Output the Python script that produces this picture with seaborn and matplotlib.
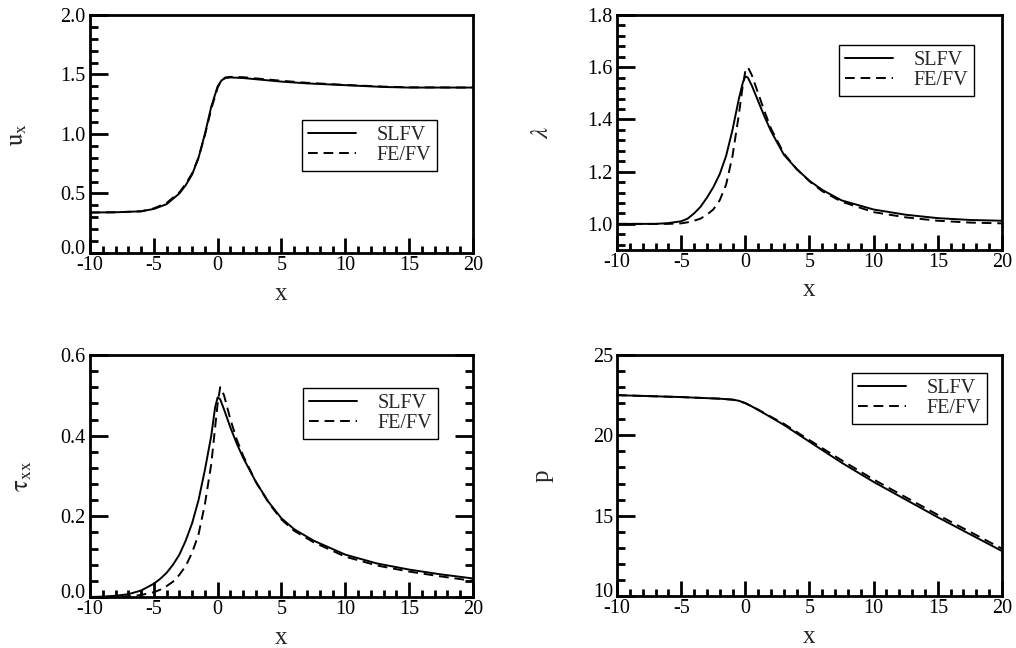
import numpy as np
import pandas as pd
import matplotlib
matplotlib.use("Agg")
import matplotlib.pyplot as plt
import matplotlib.transforms as mtransforms
import seaborn as sns
from matplotlib.ticker import MultipleLocator

# ---------------- data ----------------
labels = ["SLFV", "FE/FV"]

x_u = [-10, -8, -6, -5, -4, -3, -2.5, -2, -1.5, -1, -0.5, 0, 0.3, 0.6, 1, 2, 3, 5, 7, 10, 13, 15, 20]
u_slfv = [0.34, 0.342, 0.35, 0.37, 0.41, 0.50, 0.57, 0.66, 0.80, 1.0, 1.23, 1.40, 1.45, 1.47, 1.475,
          1.47, 1.46, 1.44, 1.425, 1.41, 1.395, 1.39, 1.39]
u_fefv = [0.34, 0.342, 0.35, 0.375, 0.42, 0.51, 0.58, 0.67, 0.80, 0.99, 1.21, 1.39, 1.45, 1.475, 1.48,
          1.477, 1.467, 1.447, 1.43, 1.412, 1.398, 1.392, 1.39]

x_lam = [-10, -7, -6, -5, -4.5, -4, -3.5, -3, -2.5, -2, -1.5, -1, -0.5, -0.2, 0, 0.2, 0.5, 1, 1.5, 2,
         3, 4, 5, 6, 7.5, 10, 12.5, 15, 17.5, 20]
lam_slfv = [1.0, 1.0, 1.003, 1.01, 1.02, 1.04, 1.065, 1.10, 1.14, 1.19, 1.26, 1.36, 1.48, 1.54, 1.565,
            1.56, 1.53, 1.47, 1.41, 1.355, 1.265, 1.21, 1.165, 1.13, 1.09, 1.055, 1.035, 1.022, 1.015, 1.012]
lam_fefv = [1.0, 1.0, 1.0, 1.002, 1.006, 1.012, 1.02, 1.035, 1.055, 1.09, 1.15, 1.26, 1.42, 1.53, 1.585,
            1.60, 1.57, 1.50, 1.43, 1.365, 1.27, 1.21, 1.163, 1.125, 1.085, 1.045, 1.025, 1.012, 1.005, 1.002]

x_tau = [-10, -9, -8, -7, -6, -5, -4.5, -4, -3.5, -3, -2.5, -2, -1.5, -1, -0.5, -0.2, 0, 0.2, 0.5, 1,
         1.5, 2, 3, 4, 5, 6, 7.5, 10, 12.5, 15, 17.5, 20]
tau_slfv = [0.0, 0.001, 0.003, 0.007, 0.016, 0.033, 0.045, 0.06, 0.08, 0.105, 0.14, 0.183, 0.24, 0.315,
            0.40, 0.47, 0.495, 0.49, 0.465, 0.42, 0.38, 0.345, 0.285, 0.235, 0.195, 0.168, 0.14, 0.105,
            0.083, 0.068, 0.056, 0.046]
tau_fefv = [0.0, 0.0, 0.001, 0.002, 0.005, 0.012, 0.018, 0.027, 0.038, 0.055, 0.077, 0.11, 0.155, 0.23,
            0.33, 0.42, 0.48, 0.52, 0.50, 0.44, 0.39, 0.35, 0.285, 0.233, 0.192, 0.164, 0.136, 0.10,
            0.078, 0.063, 0.051, 0.04]

x_p = [-10, -5, -2, -1, -0.5, 0, 0.5, 1, 2, 3, 5, 7.5, 10, 12.5, 15, 17.5, 20]
p_slfv = [22.5, 22.38, 22.28, 22.22, 22.15, 22.0, 21.8, 21.58, 21.12, 20.65, 19.6, 18.3, 17.1, 16.0,
          14.9, 13.85, 12.8]
p_fefv = [22.5, 22.38, 22.28, 22.22, 22.15, 22.0, 21.8, 21.6, 21.15, 20.72, 19.7, 18.45, 17.25, 16.15,
          15.05, 14.0, 12.95]

# ---------------- style ----------------
sns.set_theme(style="ticks")
plt.rcParams["font.family"] = ["Liberation Serif", "DejaVu Serif"]
plt.rcParams["mathtext.fontset"] = "stix"
plt.rcParams["axes.linewidth"] = 2.0
plt.rcParams["axes.unicode_minus"] = False

fig = plt.figure(figsize=(10.16, 6.48), dpi=100)

panels = [
    dict(rect=[0.0886, 0.6096, 0.3769, 0.3673], x=x_u, y1=u_slfv, y2=u_fefv,
         ylim=(0, 2.0), ymaj=0.5, ymin=0.1, yfmt="%.1f", ylabel=r"$\mathrm{u_x}$",
         ylx=-0.16, leg=(0.906, 0.559), right=False),
    dict(rect=[0.6073, 0.6142, 0.3789, 0.3627], x=x_lam, y1=lam_slfv, y2=lam_fefv,
         ylim=(0.9, 1.8), ymaj=0.2, ymin=0.04, yfmt="%.1f", ylabel=r"$\lambda$",
         ylx=-0.166, leg=(0.927, 0.872), right=False),
    dict(rect=[0.0886, 0.0787, 0.3769, 0.3735], x=x_tau, y1=tau_slfv, y2=tau_fefv,
         ylim=(0, 0.6), ymaj=0.2, ymin=0.04, yfmt="%.1f", ylabel=r"$\mathrm{\tau_{xx}}$",
         ylx=-0.146, leg=(0.909, 0.864), right=True),
    dict(rect=[0.6073, 0.0802, 0.3789, 0.3720], x=x_p, y1=p_slfv, y2=p_fefv,
         ylim=(10, 25), ymaj=5, ymin=1, yfmt="%d", ylabel="p",
         ylx=-0.164, leg=(0.961, 0.925), right=False),
]

for P in panels:
    ax = fig.add_axes(P["rect"])
    sns.lineplot(x=P["x"], y=P["y1"], ax=ax, color="black", lw=1.4, label=labels[0])
    sns.lineplot(x=P["x"], y=P["y2"], ax=ax, color="black", lw=1.4, label=labels[1],
                 linestyle=(0, (5, 3)))
    ax.set_xlim(-10, 20)
    ax.set_ylim(*P["ylim"])
    ax.xaxis.set_major_locator(MultipleLocator(5))
    ax.xaxis.set_minor_locator(MultipleLocator(1))
    ax.yaxis.set_major_locator(MultipleLocator(P["ymaj"]))
    ax.yaxis.set_minor_locator(MultipleLocator(P["ymin"]))
    ax.yaxis.set_major_formatter(matplotlib.ticker.FormatStrFormatter(P["yfmt"]))
    ax.tick_params(axis="both", which="both", direction="in", color="black",
                   labelsize=14.5, labelcolor="black", right=P["right"], top=False)
    ax.tick_params(axis="x", which="major", length=11, width=2, pad=2)
    ax.tick_params(axis="x", which="minor", length=5, width=2)
    ax.tick_params(axis="y", which="major", length=13, width=2, pad=3)
    ax.tick_params(axis="y", which="minor", length=6, width=2)
    for s in ax.spines.values():
        s.set_color("black")
        s.set_linewidth(2.0)
    ax.set_xlabel("x", fontsize=18)
    ax.xaxis.set_label_coords(0.5, -0.125)
    ax.set_ylabel(P["ylabel"], fontsize=18)
    ax.yaxis.set_label_coords(P["ylx"], 0.5)
    leg = ax.legend(loc="upper right", bbox_to_anchor=P["leg"], fontsize=14.5,
                    frameon=True, fancybox=False, edgecolor="black", framealpha=1,
                    handlelength=2.4, handletextpad=1.0, borderpad=0.3,
                    labelspacing=0.05, borderaxespad=0)
    leg.get_frame().set_linewidth(1.0)

    # lift the lowest y tick label slightly, as in the original layout
    fig.canvas.draw()
    ylabels = ax.get_yticklabels()
    ticks = ax.get_yticks()
    for t, lab in zip(ticks, ylabels):
        if abs(t - P["ylim"][0]) < 1e-9:
            offset = mtransforms.ScaledTranslation(0, 4 / 72.0, fig.dpi_scale_trans)
            lab.set_transform(lab.get_transform() + offset)

fig.savefig("out.png", dpi=100)
